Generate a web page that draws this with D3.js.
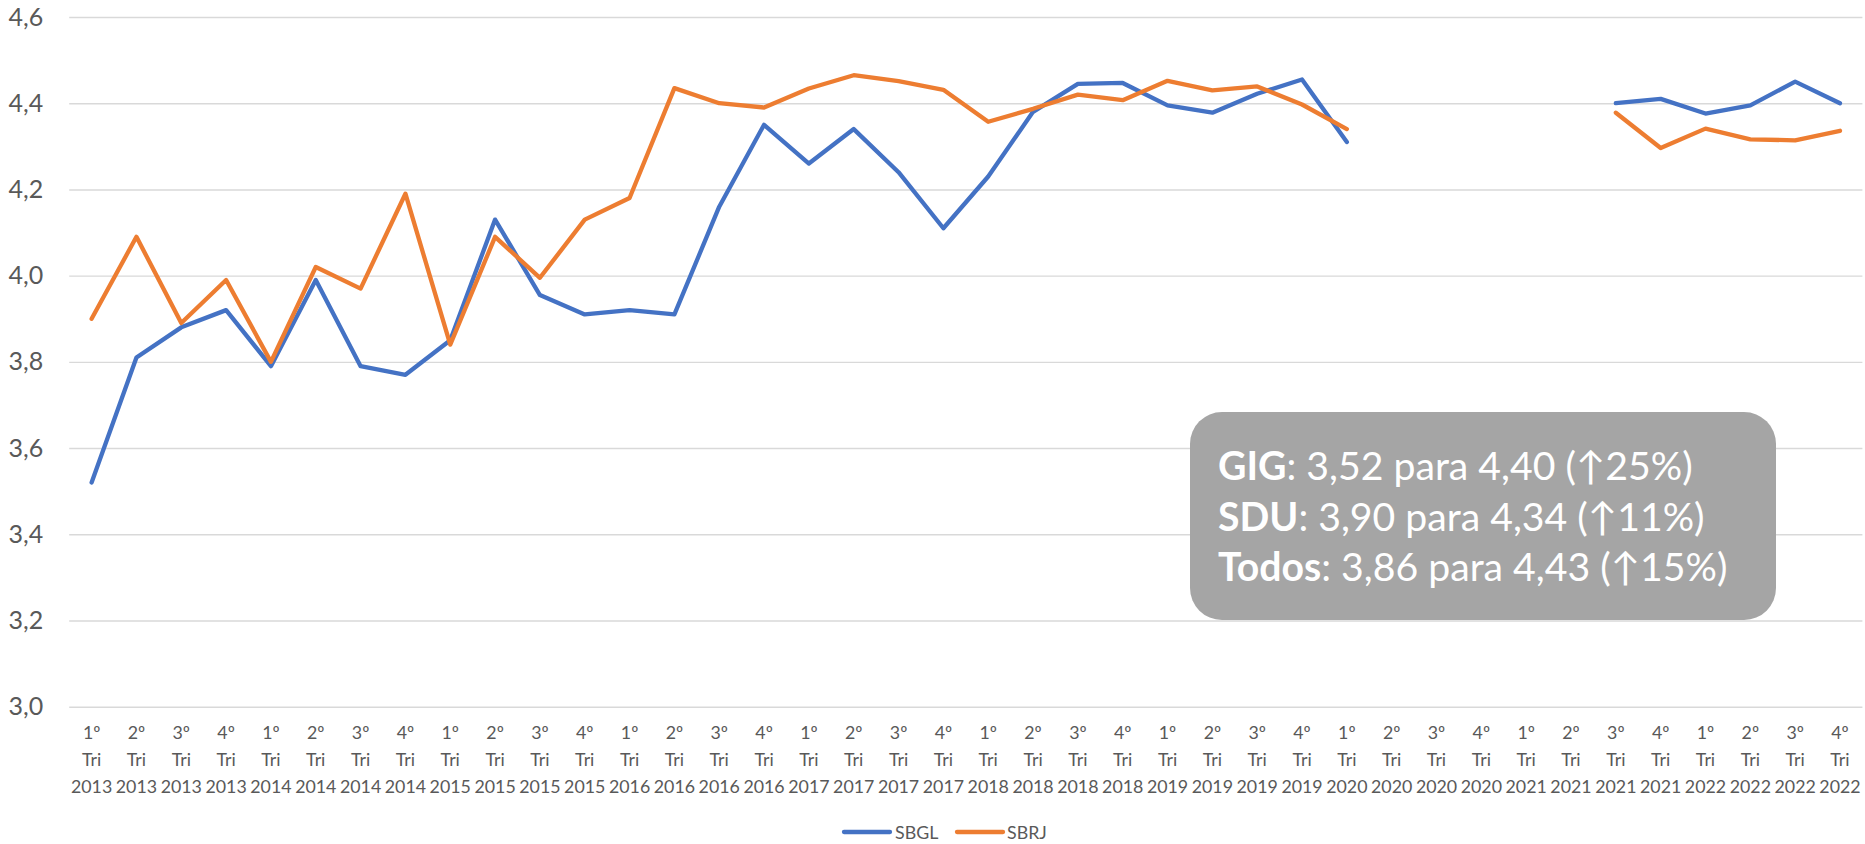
<!DOCTYPE html>
<html>
<head>
<meta charset="utf-8">
<script src="https://cdn.jsdelivr.net/npm/d3@7"></script>
<style>
  html, body { margin: 0; padding: 0; background: #ffffff; }
  svg { display: block; font-family: Lato, "Open Sans", sans-serif; }
</style>
</head>
<body>
<svg id="chart" width="1865" height="844"></svg>
<script>
// ---- Data ----
const quarters = ["1º", "2º", "3º", "4º"];
const years = [2013, 2014, 2015, 2016, 2017, 2018, 2019, 2020, 2021, 2022];
const yTicks = [3.0, 3.2, 3.4, 3.6, 3.8, 4.0, 4.2, 4.4, 4.6];
const seriesNames = ["SBGL", "SBRJ"];
const seriesColors = ["#4472C4", "#ED7D31"];

const SBGL = [3.52, 3.81, 3.88, 3.92, 3.79, 3.99, 3.79, 3.77,
              3.85, 4.13, 3.955, 3.91, 3.92, 3.91, 4.16, 4.35,
              4.26, 4.34, 4.24, 4.11, 4.23, 4.38, 4.445, 4.447,
              4.395, 4.378, 4.422, 4.455, 4.31, null, null, null,
              null, null, 4.40, 4.41, 4.376, 4.395, 4.45, 4.40];
const SBRJ = [3.90, 4.09, 3.89, 3.99, 3.80, 4.02, 3.97, 4.19,
              3.84, 4.09, 3.995, 4.13, 4.18, 4.435, 4.40, 4.39,
              4.434, 4.465, 4.451, 4.431, 4.357, 4.387, 4.42, 4.407,
              4.452, 4.43, 4.439, 4.397, 4.34, null, null, null,
              null, null, 4.378, 4.296, 4.341, 4.316, 4.314, 4.336];

const noteLines = [
  { bold: "GIG", rest: ": 3,52 para 4,40 (\u219125%)" },
  { bold: "SDU", rest: ": 3,90 para 4,34 (\u219111%)" },
  { bold: "Todos", rest: ": 3,86 para 4,43 (\u219115%)" }
];

// categories built from quarters x years
const categories = [];
years.forEach(y => quarters.forEach(q => categories.push({ q: q, y: y, key: q + " Tri " + y })));
const seriesValues = [SBGL, SBRJ];

// ---- Layout ----
const svg = d3.select("#chart");
const plot = { left: 69.2, right: 1862.4, top: 17, bottom: 706.7 };
const textColor = "#595959";

const x = d3.scalePoint()
  .domain(categories.map(c => c.key))
  .range([plot.left, plot.right])
  .padding(0.5);

const y = d3.scaleLinear()
  .domain([3.0, 4.6])
  .range([plot.bottom, plot.top]);

const locale = d3.formatLocale({ decimal: ",", thousands: ".", grouping: [3], currency: ["R$", ""] });
const fmt = locale.format(".1f");

// Y axis with gridlines
const yAxis = d3.axisLeft(y)
  .tickValues(yTicks)
  .tickFormat(fmt)
  .tickSize(-(plot.right - plot.left))
  .tickPadding(26);

const gy = svg.append("g")
  .attr("transform", `translate(${plot.left},0)`)
  .call(yAxis);
gy.select(".domain").remove();
gy.selectAll(".tick line")
  .attr("stroke", "#d9d9d9")
  .attr("stroke-width", 1.4);
gy.selectAll(".tick text")
  .attr("fill", textColor)
  .style("font-size", "25px")
  .style("font-family", "Lato, 'Open Sans', sans-serif");

// X category labels (3 lines)
const gx = svg.append("g");
const lbl = gx.selectAll("text")
  .data(categories)
  .join("text")
  .attr("x", d => x(d.key))
  .attr("y", 739)
  .attr("text-anchor", "middle")
  .attr("fill", textColor)
  .style("font-size", "17.8px");
lbl.append("tspan").attr("x", d => x(d.key)).attr("dy", 0).text(d => d.q);
lbl.append("tspan").attr("x", d => x(d.key)).attr("dy", 27).text("Tri");
lbl.append("tspan").attr("x", d => x(d.key)).attr("dy", 27).text(d => d.y);

// Lines
const line = d3.line()
  .defined(d => d.v !== null)
  .x(d => x(d.key))
  .y(d => y(d.v));

seriesValues.forEach((vals, si) => {
  const pts = categories.map((c, i) => ({ key: c.key, v: vals[i] }));
  svg.append("path")
    .datum(pts)
    .attr("fill", "none")
    .attr("stroke", seriesColors[si])
    .attr("stroke-width", 4.3)
    .attr("stroke-linejoin", "round")
    .attr("stroke-linecap", "round")
    .attr("d", line);
});

// Annotation box
const note = svg.append("g");
note.append("rect")
  .attr("x", 1190).attr("y", 412)
  .attr("width", 586).attr("height", 208)
  .attr("rx", 32).attr("ry", 32)
  .attr("fill", "#A5A5A5");
noteLines.forEach((ln, i) => {
  const t = note.append("text")
    .attr("x", 1218)
    .attr("y", 480 + i * 50.5)
    .attr("fill", "#ffffff")
    .style("font-size", "39.2px");
  t.append("tspan").attr("font-weight", "bold").text(ln.bold);
  t.append("tspan").text(ln.rest);
});

// Legend
const legendItems = [
  { name: seriesNames[0], color: seriesColors[0], x1: 844, x2: 890, tx: 895 },
  { name: seriesNames[1], color: seriesColors[1], x1: 957, x2: 1003, tx: 1007 }
];
const lg = svg.append("g");
legendItems.forEach(it => {
  lg.append("line")
    .attr("x1", it.x1).attr("x2", it.x2)
    .attr("y1", 832).attr("y2", 832)
    .attr("stroke", it.color)
    .attr("stroke-width", 4.3)
    .attr("stroke-linecap", "round");
  lg.append("text")
    .attr("x", it.tx).attr("y", 838.5)
    .attr("fill", textColor)
    .style("font-size", "17.8px")
    .text(it.name);
});
</script>
</body>
</html>
